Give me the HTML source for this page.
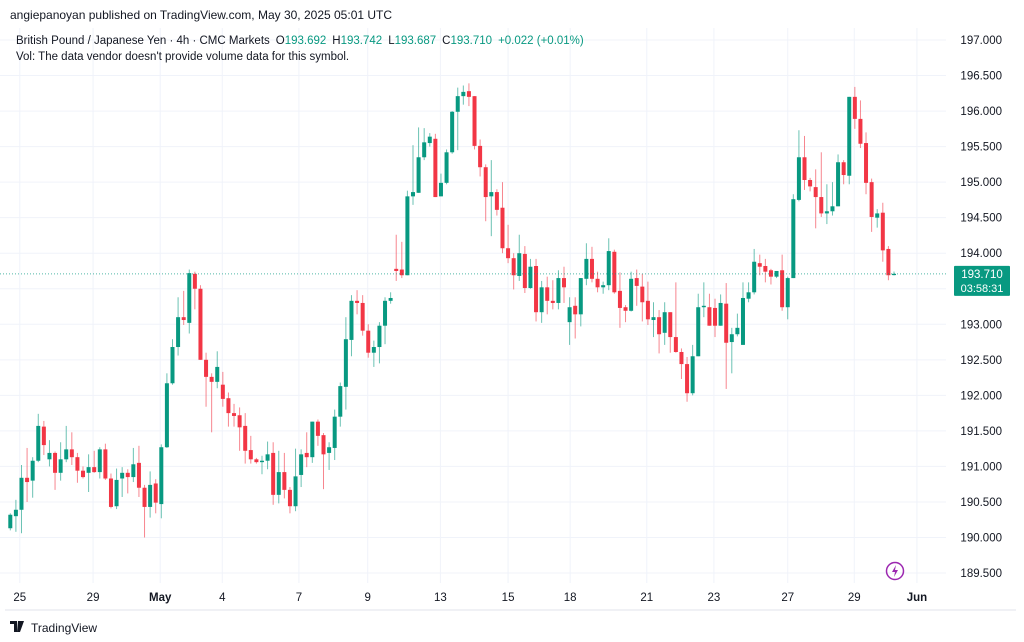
<!DOCTYPE html>
<html><head><meta charset="utf-8">
<style>
html,body{margin:0;padding:0;background:#fff;width:1024px;height:642px;overflow:hidden;font-family:"Liberation Sans",sans-serif;}
svg{position:absolute;left:0;top:0;}
</style></head>
<body>
<svg id="chart" width="1024" height="642" viewBox="0 0 1024 642">
  <text x="10" y="19" font-size="12" fill="#131722">angiepanoyan published on TradingView.com, May 30, 2025 05:01 UTC</text>
  <g id="grid"></g>
  <g id="candles"></g>
  <g id="yaxis"></g>
  <g id="xaxis"></g>
  <text x="16" y="44" font-size="11.5" fill="#131722">British Pound / Japanese Yen · 4h · CMC Markets<tspan dx="6">O</tspan><tspan fill="#089981">193.692</tspan><tspan dx="6">H</tspan><tspan fill="#089981">193.742</tspan><tspan dx="6">L</tspan><tspan fill="#089981">193.687</tspan><tspan dx="6">C</tspan><tspan fill="#089981">193.710</tspan><tspan dx="6" fill="#089981">+0.022 (+0.01%)</tspan></text>
  <text x="16" y="60" font-size="11.5" fill="#131722">Vol: The data vendor doesn't provide volume data for this symbol.</text>
  <g>
    <path d="M10 621 H17 V632 H14 V624 H10 Z M18 621 H20 L24 621 L20 632 H17 Z" fill="#131722"/>
    <text x="31" y="632" font-size="12" fill="#131722">TradingView</text>
  </g>
  <g>
    <circle cx="895" cy="571" r="8.5" fill="none" stroke="#9c27b0" stroke-width="1.5"/>
    <path d="M896 565 L892 572 L895 572 L894 577 L898 570 L895 570 Z" fill="#9c27b0"/>
  </g>
</svg>
<script>
const opens=[190.13,190.30,190.39,190.84,190.80,191.08,191.56,191.10,191.19,190.91,191.10,191.24,191.13,190.94,190.91,190.99,190.92,191.24,190.83,190.44,190.83,190.91,190.85,191.05,190.70,190.43,190.76,190.47,191.27,192.17,192.68,193.10,193.02,193.71,193.50,192.50,192.26,192.19,192.15,191.96,191.75,191.72,191.57,191.23,191.10,191.06,191.08,191.19,190.60,190.92,190.67,190.44,190.88,191.19,191.13,191.63,191.44,191.19,191.26,191.70,192.12,192.78,193.33,193.30,192.91,192.60,192.68,192.98,193.33,193.78,193.77,193.69,194.80,194.85,195.35,195.55,195.61,194.80,194.99,195.42,195.99,196.21,196.28,196.21,195.51,195.21,194.80,194.86,194.64,194.07,193.93,193.68,193.99,193.51,193.82,193.17,193.52,193.33,193.30,193.65,193.03,193.26,193.14,193.64,193.92,193.64,193.52,193.55,194.02,193.47,193.24,193.19,193.65,193.53,193.33,193.06,193.10,192.88,193.17,192.82,192.61,192.44,192.03,192.55,193.24,193.24,193.23,192.98,193.29,192.75,192.86,192.71,193.36,193.45,193.86,193.82,193.76,193.67,193.76,193.24,193.65,194.75,195.35,195.03,194.93,194.79,194.56,194.59,194.66,195.28,195.09,196.20,195.89,195.55,195.00,194.50,194.57,194.06,193.692];
const highs=[190.34,190.53,191.02,191.26,191.13,191.74,191.64,191.37,191.21,191.34,191.57,191.48,191.19,191.00,191.17,191.22,191.27,191.32,190.90,190.97,190.99,190.96,191.26,191.29,190.74,190.93,190.82,191.31,192.31,192.79,193.38,193.47,193.77,193.74,193.55,192.60,192.31,192.62,192.33,192.04,191.88,191.83,191.75,191.43,191.12,191.15,191.35,191.34,191.22,191.19,190.71,191.25,191.24,191.48,191.63,191.66,191.47,191.34,191.80,192.18,193.10,193.41,193.48,193.41,193.00,192.77,193.03,193.38,193.45,194.26,194.16,194.88,195.52,195.77,195.76,195.69,195.68,195.12,195.46,196.00,196.33,196.36,196.39,196.21,195.60,195.25,195.31,194.90,195.00,194.40,194.00,194.26,194.10,193.92,193.92,193.61,193.67,193.62,193.76,193.81,193.38,193.38,193.65,194.14,194.09,193.74,193.60,194.21,194.05,193.73,193.27,193.74,193.77,193.71,193.60,193.31,193.20,193.31,193.17,193.59,192.66,192.54,192.71,193.43,193.59,193.43,193.36,193.42,193.58,192.95,193.15,193.59,193.59,194.06,193.98,193.92,193.78,193.75,193.98,193.67,194.83,195.73,195.65,195.06,195.18,195.42,194.97,195.00,195.39,195.31,196.20,196.34,196.15,195.70,195.05,194.62,194.71,194.10,193.742];
const lows=[190.10,190.08,190.06,190.50,190.56,191.06,191.16,191.00,190.67,190.80,191.06,191.02,190.77,190.83,190.64,190.91,190.83,190.81,190.41,190.40,190.57,190.62,190.78,190.57,190.00,190.28,190.34,190.27,191.26,192.15,192.56,192.99,192.87,193.21,192.50,191.84,191.48,192.10,191.84,191.56,191.56,191.22,191.04,191.04,191.04,190.89,190.96,190.46,190.48,190.55,190.34,190.37,190.71,190.99,191.05,191.29,190.68,190.95,191.09,191.56,191.80,192.55,193.14,192.84,192.53,192.40,192.45,192.72,193.29,193.61,193.65,193.69,194.68,194.85,195.31,195.50,194.79,194.80,194.97,195.40,195.45,196.09,196.07,195.46,195.08,194.45,194.24,194.53,194.00,193.86,193.49,193.61,193.44,193.50,193.04,193.02,193.14,193.21,193.21,193.30,192.71,192.80,192.97,193.55,193.59,193.45,193.43,193.48,193.43,192.95,193.03,193.18,193.26,193.04,192.99,192.82,192.59,192.71,192.60,192.60,192.23,191.91,192.00,192.55,193.10,192.98,192.82,192.98,192.09,192.31,192.83,192.71,193.31,193.42,193.69,193.59,193.56,193.65,193.19,193.07,193.65,194.73,194.89,194.87,194.35,194.51,194.41,194.53,194.66,194.97,194.97,195.75,195.48,194.83,194.30,194.36,193.88,193.62,193.687];
const closes=[190.32,190.39,190.84,190.78,191.08,191.57,191.30,191.19,190.91,191.10,191.24,191.13,190.94,190.85,190.99,190.92,191.24,190.83,190.43,190.81,190.91,190.85,191.03,190.70,190.43,190.74,190.49,191.27,192.17,192.68,193.10,193.06,193.72,193.50,192.50,192.26,192.19,192.40,191.95,191.75,191.71,191.55,191.22,191.10,191.06,191.08,191.17,190.60,190.92,190.67,190.44,190.86,191.17,191.13,191.63,191.43,191.17,191.27,191.70,192.13,192.79,193.33,193.30,192.91,192.60,192.68,192.98,193.33,193.37,193.75,193.69,194.80,194.86,195.35,195.56,195.64,194.79,194.99,195.42,195.99,196.21,196.27,196.20,195.51,195.21,194.79,194.86,194.61,194.07,193.93,193.69,194.00,193.51,193.81,193.17,193.52,193.33,193.30,193.65,193.52,193.24,193.14,193.65,193.92,193.64,193.52,193.55,194.03,193.45,193.23,193.19,193.64,193.54,193.31,193.07,193.10,192.86,193.17,192.82,192.61,192.44,192.03,192.55,193.24,193.26,192.98,192.98,193.30,192.74,192.86,192.95,193.37,193.45,193.88,193.81,193.74,193.67,193.75,193.24,193.65,194.76,195.35,195.03,194.94,194.79,194.56,194.59,194.66,195.28,195.10,196.20,195.89,195.54,194.99,194.51,194.56,194.04,193.69,193.710];
const priceTicks=[197,196.5,196,195.5,195,194.5,194,193.5,193,192.5,192,191.5,191,190.5,190,189.5];
const timeTickLabels=["25","29","May","4","7","9","13","15","18","21","23","27","29","Jun"];
const timeTickIndex=[1.7,14.8,26.8,37.9,51.6,63.9,76.9,89.0,100.1,113.8,125.8,139.0,150.9,162.1];
const lastPrice=193.710;
const countdown="03:58:31";

const NS="http://www.w3.org/2000/svg";
const yOf=p=>40+(197-p)*71.07;
const xOf=i=>10.3+i*5.593;
function mk(tag,attrs,parent){const e=document.createElementNS(NS,tag);for(const k in attrs)e.setAttribute(k,attrs[k]);parent.appendChild(e);return e;}
const grid=document.getElementById('grid'),cg=document.getElementById('candles'),ya=document.getElementById('yaxis'),xa=document.getElementById('xaxis');

priceTicks.forEach(p=>{
  const y=yOf(p);
  const l=mk('line',{x1:0,x2:946,y1:y,y2:y,stroke:'#f0f3fa','stroke-width':1},grid);
  
  
  const t=mk('text',{x:1002,y:y+4,'font-size':11.5,fill:'#131722','text-anchor':'end'},ya);
  t.textContent=p.toFixed(3);
  
  
});
timeTickIndex.forEach((ix,k)=>{
  const x=xOf(ix);
  const l=mk('line',{x1:x,x2:x,y1:28,y2:583,stroke:'#f0f3fa','stroke-width':1},grid);
  
  
  const lab=timeTickLabels[k];
  const t=mk('text',{x:x,y:601,'font-size':11.5,fill:'#131722','text-anchor':'middle','font-weight':(lab==='May'||lab==='Jun')?'bold':'normal'},xa);
  t.textContent=lab;
  
  
});
const bl=mk('line',{x1:5,x2:1016,y1:610,y2:610,stroke:'#e0e3eb','stroke-width':1},grid);



opens.forEach((o,i)=>{
  const c=closes[i],h=highs[i],lo=lows[i];
  const up=c>=o, col=up?'#089981':'#F23645';
  const x=xOf(i);
  const w=mk('line',{x1:x,x2:x,y1:yOf(h),y2:yOf(lo),stroke:col,'stroke-width':1,'stroke-opacity':0.6},cg);
  
  
  const top=yOf(Math.max(o,c)),bot=yOf(Math.min(o,c));
  const b=mk('rect',{x:x-2,y:top,width:4,height:Math.max(1,bot-top),fill:col},cg);
  
  
});

const ly=yOf(lastPrice);
const pl=mk('line',{x1:0,x2:946,y1:ly,y2:ly,stroke:'#089981','stroke-width':1,'stroke-dasharray':'1,2','stroke-opacity':0.7},cg);


const box=mk('rect',{x:954,y:ly-8,width:56,height:30,fill:'#089981',rx:1},ya);


const t1=mk('text',{x:982,y:ly+4,'font-size':11.5,fill:'#fff','text-anchor':'middle'},ya);
t1.textContent=lastPrice.toFixed(3);


const t2=mk('text',{x:982,y:ly+18,'font-size':11,fill:'#fff','text-anchor':'middle'},ya);
t2.textContent=countdown;


</script>
</body></html>
